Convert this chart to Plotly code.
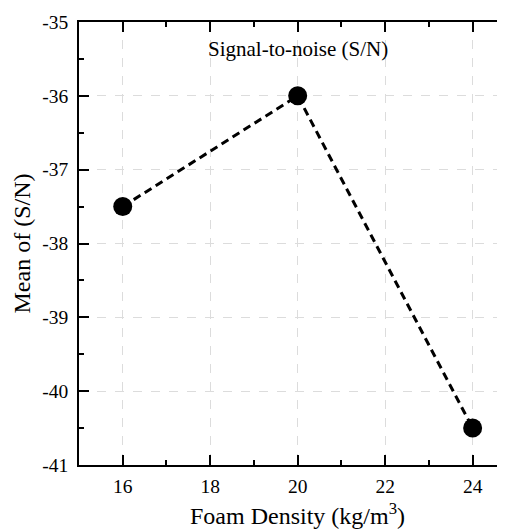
import plotly.graph_objects as go

density = [16, 20, 24]
sn_mean = [-37.5, -36.0, -40.5]
x_ticks = [16, 18, 20, 22, 24]
y_ticks = [-35, -36, -37, -38, -39, -40, -41]

FONT = "'Liberation Serif', 'Times New Roman', serif"

fig = go.Figure()
fig.add_trace(go.Scatter(
    x=density, y=sn_mean, mode="lines+markers",
    line=dict(color="black", width=3, dash="8px,5px"),
    marker=dict(color="black", size=19),
    showlegend=False,
))

fig.add_annotation(x=20, y=-35.37, text="Signal-to-noise (S/N)", showarrow=False,
                   font=dict(family=FONT, size=21, color="black"))
# axis titles
fig.add_annotation(xref="paper", yref="paper", x=0.5, y=0, yanchor="middle",
                   xshift=5, yshift=-49, text="Foam Density (kg/m<sup>3</sup>)", showarrow=False,
                   font=dict(family=FONT, size=24, color="black"))
fig.add_annotation(xref="paper", yref="paper", x=0, y=0.5, xanchor="center",
                   xshift=-58, textangle=-90, text="Mean of (S/N)", showarrow=False,
                   font=dict(family=FONT, size=24, color="black"))

fig.update_layout(
    width=497, height=522,
    margin=dict(l=71, r=0, t=14, b=65, autoexpand=False),
    paper_bgcolor="white", plot_bgcolor="white",
    font=dict(family=FONT, color="black"),
)
fig.update_xaxes(
    automargin=False,
    range=[15, 24.74], tickvals=x_ticks, ticktext=[str(v) for v in x_ticks],
    ticks="inside", ticklen=10, tickwidth=1.5, tickcolor="black",
    showline=True, linecolor="black", linewidth=1.5, mirror="ticks",
    showgrid=True, gridcolor="#dcdcdc", griddash="dash", gridwidth=1,
    zeroline=False, tickfont=dict(size=19.5, family=FONT),
    ticklabelstandoff=3,
    minor=dict(ticks="inside", ticklen=5, tickwidth=1.5, tickcolor="black", dtick=1, tick0=15, showgrid=False),
)
fig.update_yaxes(
    automargin=False,
    range=[-41, -35], tickvals=y_ticks, ticktext=[str(v) for v in y_ticks],
    ticks="inside", ticklen=10, tickwidth=1.5, tickcolor="black",
    showline=True, linecolor="black", linewidth=1.5, mirror=False,
    showgrid=True, gridcolor="#dcdcdc", griddash="dash", gridwidth=1,
    zeroline=False, tickfont=dict(size=19.5, family=FONT),
    ticklabelstandoff=5,
    minor=dict(ticks="inside", ticklen=5, tickwidth=1.5, tickcolor="black", dtick=0.5, tick0=-41, showgrid=False),
)

fig.write_html("out.html")
